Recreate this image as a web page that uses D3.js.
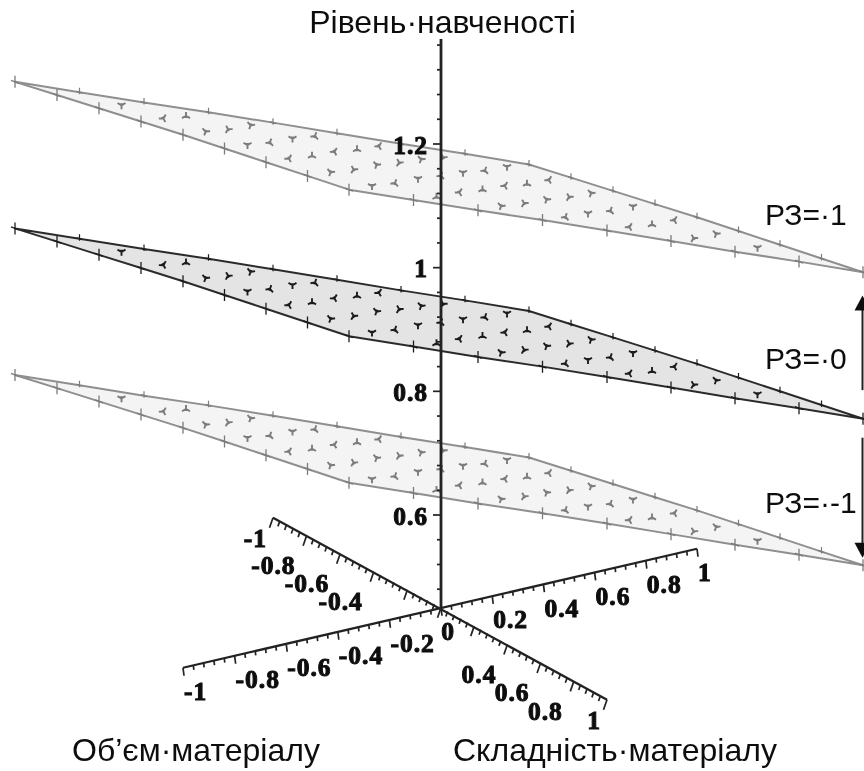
<!DOCTYPE html>
<html><head><meta charset="utf-8">
<script src="https://cdn.jsdelivr.net/npm/d3@7"></script>
<style>html,body{margin:0;padding:0;background:#fff;overflow:hidden}svg{display:block}</style>
</head><body><svg id="c" width="864" height="771"></svg>
<script>
// grid coordinates of the two factors
const gridU = [-1,-0.75,-0.5,-0.25,0,0.25,0.5,0.75,1];
const gridV = [-1,-0.75,-0.5,-0.25,0,0.25,0.5,0.75,1];
// learning level at P3 = 0, rows follow gridV, columns gridU
const surfaceP0 = [
 [1.015,0.974,0.933,0.893,0.852,0.811,0.770,0.730,0.689],
 [1.030,0.989,0.948,0.908,0.867,0.826,0.785,0.745,0.704],
 [1.045,1.004,0.963,0.923,0.882,0.841,0.800,0.760,0.719],
 [1.060,1.019,0.978,0.938,0.897,0.856,0.815,0.775,0.734],
 [1.075,1.034,0.993,0.953,0.912,0.871,0.830,0.790,0.749],
 [1.090,1.049,1.008,0.968,0.927,0.886,0.845,0.805,0.764],
 [1.105,1.064,1.023,0.983,0.942,0.901,0.860,0.820,0.779],
 [1.120,1.079,1.038,0.998,0.957,0.916,0.875,0.835,0.794],
 [1.135,1.094,1.053,1.013,0.972,0.931,0.890,0.850,0.809]
];
const p3Levels = [1,0,-1];
const p3Shift = [0.237,0,-0.237];
const p3Labels = ["РЗ=·1","РЗ=·0","РЗ=·-1"];
const zTickValues = [0.6,0.8,1,1.2];
const zTickLabels = ["0.6","0.8","1","1.2"];
const uTickValues = [-1,-0.8,-0.6,-0.4,-0.2,0.2,0.4,0.6,0.8,1];
const uTickLabels = ["-1","-0.8","-0.6","-0.4","-0.2","0.2","0.4","0.6","0.8","1"];
const vTickValues = [-1,-0.8,-0.6,-0.4,0,0.4,0.6,0.8,1];
const vTickLabels = ["-1","-0.8","-0.6","-0.4","0","0.4","0.6","0.8","1"];
const titleZ = "Рівень·навченості";
const titleU = "Об’єм·матеріалу";
const titleV = "Складність·матеріалу";

const svg = d3.select("#c");
const defs = svg.append("defs");
defs.append("filter").attr("id","soft").attr("x","-5%").attr("y","-5%").attr("width","110%").attr("height","110%")
  .append("feGaussianBlur").attr("stdDeviation",0.7);
const root = svg.append("g").attr("filter","url(#soft)");

const originX = 441;
const zY = d3.scaleLinear().domain([0.6,1.2]).range([515,144]);
const zOrigin = 0.45;
const originY = zY(zOrigin);
const uX = d3.scaleLinear().domain([-1,0,1]).range([-258,0,256]);
const uY = d3.scaleLinear().domain([-1,0,1]).range([60,0,-59]);
const vX = d3.scaleLinear().domain([-1,0,1]).range([-168,0,166]);
const vY = d3.scaleLinear().domain([-1,0,1]).range([-90,0,92]);
const px = (u,v) => originX + uX(u) + vX(v);
const py = (u,v,z) => originY + uY(u) + vY(v) + (zY(z) - originY);

const styles = [
  {fill:"#f4f4f4", line:"#8f8f8f", mark:"#7c7c7c"},
  {fill:"#e4e4e4", line:"#2c2c2c", mark:"#1e1e1e"},
  {fill:"#f4f4f4", line:"#8f8f8f", mark:"#7c7c7c"}
];
const last = gridU.length-1;

p3Levels.forEach((lvl,k)=>{
  const st = styles[k];
  const g = root.append("g");
  const pt = (i,j)=>[px(gridU[i],gridV[j]), py(gridU[i],gridV[j],surfaceP0[j][i]+p3Shift[k])];
  const outline = [];
  gridU.forEach((_,i)=>outline.push(pt(i,0)));
  gridV.forEach((_,j)=>outline.push(pt(last,j)));
  gridU.slice().reverse().forEach((_,i)=>outline.push(pt(last-i,last)));
  gridV.slice().reverse().forEach((_,j)=>outline.push(pt(0,last-j)));
  g.append("path").attr("d",d3.line()(outline)+"Z").attr("fill",st.fill)
    .attr("stroke",st.line).attr("stroke-width",2).attr("stroke-linejoin","round");
  gridV.forEach((_,j)=>gridU.forEach((_,i)=>{
    const [x,y]=pt(i,j);
    const lowEdge = (i===0 || j===last);
    const topEdge = (j===0 || i===last);
    let d, w=1.2, rot=0;
    if(lowEdge){ d="M0,-6L0,6M-4,-1.5L4,1.5"; w=1.3; }
    else if(topEdge){ d="M0,-4.5L0,2M-3,-1L3,1"; w=1.2; }
    else { d="M0,0L-4,2.4M0,0L4,2.4M0,0L0,-3.8M-2,1.2L2,1.2"; w=1.9; rot=[0,180,-30,150,20,200][(i*5+j*2)%6]; }
    g.append("path").attr("d",d)
      .attr("transform",`translate(${x},${y}) rotate(${rot})`)
      .attr("fill","none").attr("stroke",st.mark).attr("stroke-width",w);
  }));
});

const axisCol="#222";
const axes=root.append("g").attr("stroke",axisCol).attr("fill","none");
// vertical axis
const zLineTop=1.37, zTickTop=1.36;
axes.append("line").attr("x1",originX).attr("x2",originX).attr("y1",zY(zLineTop)).attr("y2",originY).attr("stroke-width",2.8);
d3.range(0.48,zTickTop+0.001,0.04).forEach(z=>{
  const major=Math.abs((z/0.2)-Math.round(z/0.2))<1e-6;
  axes.append("line").attr("x1",originX).attr("x2",originX-(major?8:4)).attr("y1",zY(z)).attr("y2",zY(z)).attr("stroke-width",1.7);
});
// horizontal axes
axes.append("line").attr("x1",px(-1,0)).attr("y1",py(-1,0,zOrigin)).attr("x2",px(1,0)).attr("y2",py(1,0,zOrigin)).attr("stroke-width",2.3);
axes.append("line").attr("x1",px(0,-1)).attr("y1",py(0,-1,zOrigin)).attr("x2",px(0,1)).attr("y2",py(0,1,zOrigin)).attr("stroke-width",2.3);
d3.range(-1,1.001,0.04).forEach(t=>{
  const major=Math.abs((t/0.2)-Math.round(t/0.2))<1e-6;
  const xa=px(t,0), ya=py(t,0,zOrigin);
  axes.append("line").attr("x1",xa).attr("y1",ya).attr("x2",xa+(major?1:0.5)).attr("y2",ya+(major?8:4.5)).attr("stroke-width",1.7);
  const xb=px(0,t), yb=py(0,t,zOrigin);
  axes.append("line").attr("x1",xb).attr("y1",yb).attr("x2",xb-(major?3.5:1.8)).attr("y2",yb+(major?10:5)).attr("stroke-width",1.7);
});

// arrows
const arrowX=862.5;
const drawArrow=(z1,z2)=>{
  const y1=zY(z1), y2=zY(z2), s=y2<y1?1:-1;
  axes.append("line").attr("x1",arrowX).attr("x2",arrowX).attr("y1",y1).attr("y2",y2+s*6).attr("stroke-width",2);
  root.append("path").attr("fill","#111")
    .attr("d",`M${arrowX},${y2}L${arrowX+8},${y2+s*15}L${arrowX-8},${y2+s*15}Z`);
};
drawArrow(0.802,0.955);
drawArrow(0.725,0.531);

const tick=(sel,txt,x,y,anchor)=>sel.append("text").text(txt).attr("x",x).attr("y",y)
  .attr("text-anchor",anchor).attr("dominant-baseline","central")
  .attr("font-family","'Liberation Serif',serif").attr("font-weight","bold").attr("font-size",25.5)
  .attr("letter-spacing",1).attr("fill","#0a0a0a").attr("stroke","#0a0a0a").attr("stroke-width",1);
const labels=root.append("g");
zTickValues.forEach((z,i)=>tick(labels,zTickLabels[i],428,zY(z)+1,"end"));
uTickValues.forEach((u,i)=>tick(labels,uTickLabels[i],px(u,0)+1,py(u,0,zOrigin)+24,"start"));
vTickValues.forEach((v,i)=>{
  const edge=Math.abs(v)===1, zero=v===0;
  const dy = zero?24:(v===1?21:(v===-1?21:30));
  tick(labels,vTickLabels[i],px(0,v)+(zero?14:edge?-6:-11),py(0,v,zOrigin)+dy,"end");
});

const title=(txt,x,y,anchor,size)=>labels.append("text").text(txt).attr("x",x).attr("y",y)
  .attr("text-anchor",anchor).attr("font-family","'Liberation Sans',Arial,sans-serif")
  .attr("font-size",size).attr("fill","#111");
title(titleZ,442.5,33,"middle",32);
title(titleU,72,761,"start",32);
title(titleV,453,761,"start",32);
const p3Y=d3.scaleLinear().domain([-1,1]).range([513,225]);
p3Levels.forEach((l,i)=>title(p3Labels[i],765,p3Y(l),"start",30));
</script></body></html>
